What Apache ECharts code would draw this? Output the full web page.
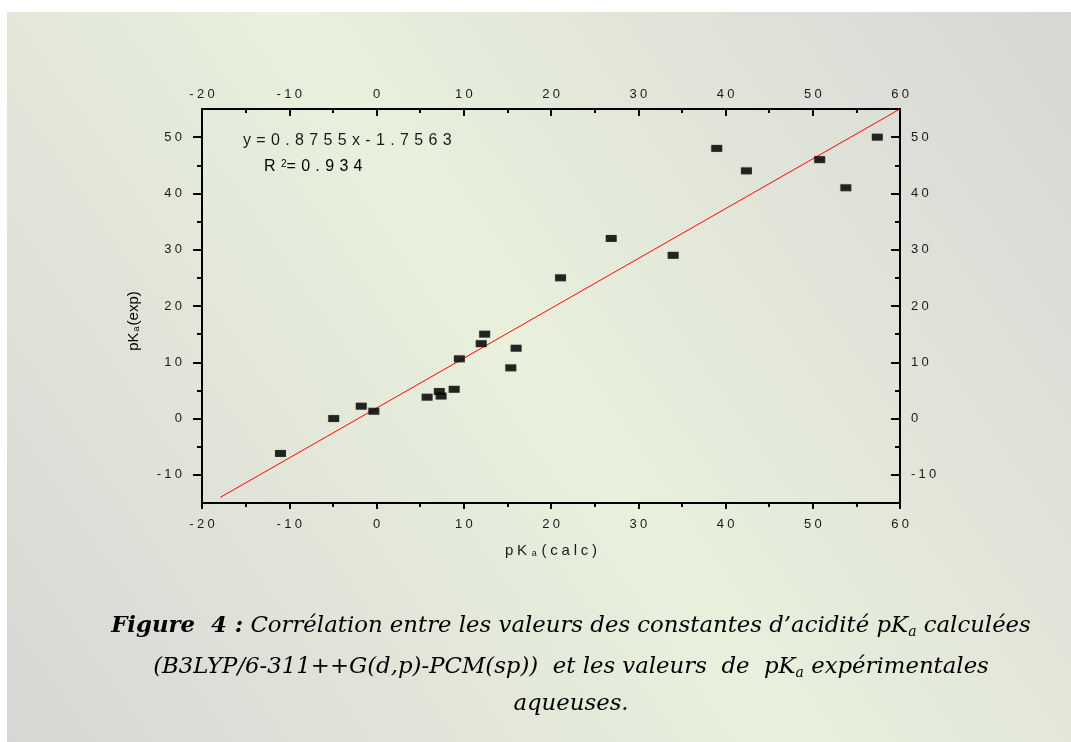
<!DOCTYPE html>
<html>
<head>
<meta charset="utf-8">
<script src="https://cdn.jsdelivr.net/npm/echarts@6/dist/echarts.min.js"></script>
<style>
html,body{margin:0;padding:0;background:#fff;}
#c{width:1071px;height:742px;}
</style>
</head>
<body>
<div id="c"></div>
<script>
// ---- data ----
const pkaCalc = [-11.0, -4.9, -1.75, -0.3, 5.8, 7.2, 7.4, 8.9, 9.5, 12.0, 12.4, 15.4, 16.0, 21.1, 26.9, 34.0, 39.0, 42.4, 50.8, 53.8, 57.4];
const pkaExp  = [-6.2, 0.0, 2.2, 1.3, 3.8, 4.8, 4.0, 5.2, 10.6, 13.3, 15.0, 9.0, 12.5, 25.0, 32.0, 29.0, 48.0, 44.0, 46.0, 41.0, 50.0];
const fitX = [-17.9, 60];
const fitY = [-14.0, 55.0];
const yMajorTicks = [-10, 0, 10, 20, 30, 40, 50];
const yMinorTicks = [-5, 5, 15, 25, 35, 45];
const equationText = 'y=0.8755x-1.7563';
const r2Text = '=0.934';

const sp = s => String(s).split('').join('\u2005');
const spEq = s => String(s).split('').join('\u2004');
const spName = s => String(s).split('').join('\u2005');

const FONT = "'Liberation Sans', Arial, sans-serif";
const SERIF = "'DejaVu Serif', 'Liberation Serif', serif";
const lblStyle = {color: '#1a1a1a', fontFamily: FONT, fontSize: 13};

const chart = echarts.init(document.getElementById('c'), null, {renderer: 'canvas'});

const axisLine = {show: true, onZero: false, lineStyle: {color: '#000', width: 2}};

const nameRich = {
  n: {fontFamily: FONT, fontSize: 15, color: '#1a1a1a', lineHeight: 15, verticalAlign: 'top'},
  s: {fontFamily: FONT, fontSize: 9, color: '#1a1a1a', lineHeight: 9, verticalAlign: 'bottom', padding: [9, 1, 0, 1]}
};

function xAxisDef(pos) {
  const top = pos === 'top';
  return {
    type: 'value', position: pos, min: -20, max: 60, interval: 10,
    axisLine: axisLine,
    axisTick: {show: true, inside: top, length: top ? 7 : 6, lineStyle: {color: '#000', width: 2}},
    minorTick: {show: true, splitNumber: 2, length: 4, lineStyle: {color: '#000', width: 2}},
    splitLine: {show: false}, minorSplitLine: {show: false},
    axisLabel: Object.assign({margin: top ? 8 : 15, formatter: v => sp(v)}, lblStyle),
    name: top ? '' : '{n|' + spName('pK') + '\u2005}{s|a}{n|\u2005' + spName('(calc)') + '}',
    nameLocation: 'middle', nameGap: 40,
    nameTextStyle: {rich: nameRich}
  };
}

function yAxisDef(pos, minor) {
  const right = pos === 'right';
  return {
    type: 'value', position: pos, min: -15, max: 55,
    axisLine: minor ? {show: false, onZero: false} : axisLine,
    axisTick: {show: true, inside: right, length: minor ? 5 : 9,
      customValues: minor ? yMinorTicks : yMajorTicks,
      lineStyle: {color: '#000', width: 2}},
    splitLine: {show: false},
    axisLabel: minor ? {show: false} : Object.assign({
      show: true, margin: right ? 11 : 20, customValues: yMajorTicks, formatter: v => sp(v)}, lblStyle)
  };
}

const W = 1071, H = 742;

const capRich = {
  b: {fontFamily: SERIF, fontSize: 22.8, fontStyle: 'italic', fontWeight: 'bold', color: '#000', lineHeight: 24, verticalAlign: 'top'},
  i: {fontFamily: SERIF, fontSize: 22.8, fontStyle: 'italic', color: '#000', lineHeight: 24, verticalAlign: 'top'},
  s: {fontFamily: SERIF, fontSize: 14, fontStyle: 'italic', color: '#000', lineHeight: 14, verticalAlign: 'bottom', padding: [14, 0, 0, 0]}
};

const option = {
  animation: false,
  backgroundColor: '#ffffff',
  grid: {left: 202, right: 171, top: 109, bottom: 239, containLabel: false},
  xAxis: [xAxisDef('bottom'), xAxisDef('top')],
  yAxis: [yAxisDef('left', false), yAxisDef('left', true), yAxisDef('right', false), yAxisDef('right', true)],
  graphic: [
    {
      type: 'rect', z: -10, silent: true,
      shape: {x: 7, y: 12, width: W - 7, height: H - 12},
      style: {fill: new echarts.graphic.LinearGradient(1, 0, 0, 1, [
        {offset: 0, color: '#d6d7d4'},
        {offset: 0.5, color: '#e9f0dc'},
        {offset: 1, color: '#d6d7d4'}
      ])}
    },
    {
      type: 'text', x: 134, y: 321, rotation: Math.PI / 2,
      style: {
        text: '{n|pK}{s|a}{n|(exp)}', align: 'center', verticalAlign: 'middle', rich: nameRich
      }
    },
    {
      type: 'text', left: 243, top: 133,
      style: {text: spEq(equationText), fill: '#1a1a1a', font: "16px " + FONT}
    },
    {
      type: 'text', left: 264, top: 153,
      style: {
        text: '{n|R\u2004}{p|2}{n|' + spEq(r2Text) + '}',
        rich: {
          n: {fontFamily: FONT, fontSize: 16, color: '#1a1a1a', lineHeight: 16, verticalAlign: 'bottom', padding: [6, 0, 0, 0]},
          p: {fontFamily: FONT, fontSize: 10, color: '#1a1a1a', lineHeight: 10, verticalAlign: 'top'}
        }
      }
    },
    {
      type: 'text', x: 571, y: 627,
      style: {
        text: '{b|Figure\u00a0\u00a04\u00a0:}{i| Corrélation entre les valeurs des constantes d’acidité pK}{s|a}{i| calculées}',
        align: 'center', verticalAlign: 'middle', rich: capRich
      }
    },
    {
      type: 'text', x: 571, y: 668,
      style: {
        text: '{i|(B3LYP/6-311++G(d,p)-PCM(sp))\u00a0\u00a0et les valeurs\u00a0\u00a0de\u00a0\u00a0pK}{s|a}{i| expérimentales}',
        align: 'center', verticalAlign: 'middle', rich: capRich
      }
    },
    {
      type: 'text', x: 571, y: 705,
      style: {
        text: '{i|aqueuses.}', align: 'center', verticalAlign: 'middle', rich: capRich
      }
    }
  ],
  series: [
    {
      type: 'line', xAxisIndex: 0, yAxisIndex: 0,
      data: fitX.map((x, i) => [x, fitY[i]]),
      showSymbol: false, symbol: 'none',
      lineStyle: {color: '#ff0000', width: 1},
      z: 2
    },
    {
      type: 'scatter', xAxisIndex: 0, yAxisIndex: 0,
      data: pkaCalc.map((x, i) => [x, pkaExp[i]]),
      symbol: 'rect', symbolSize: [11, 7],
      itemStyle: {color: '#000', shadowColor: 'rgba(0,0,0,0.35)', shadowBlur: 1.5},
      z: 3
    }
  ]
};
chart.setOption(option);
</script>
</body>
</html>
